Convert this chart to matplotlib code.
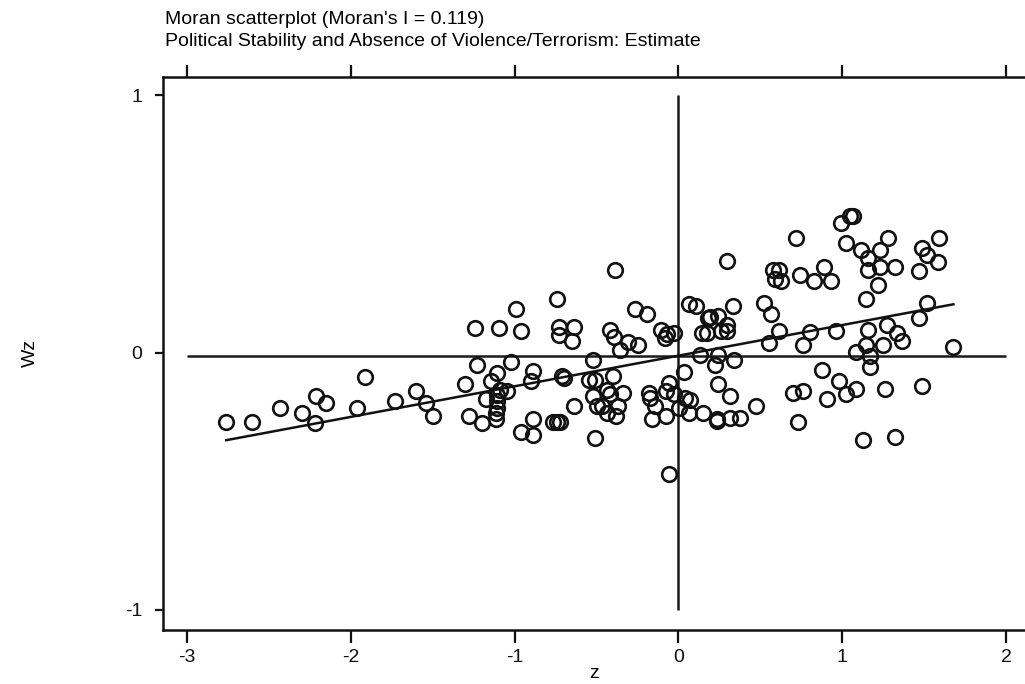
import matplotlib.pyplot as plt
import numpy as np

plt.rcParams["font.family"] = ["Liberation Sans", "DejaVu Sans"]

# standardized variable z and its spatial lag Wz
z = [
    -2.76, -2.60, -2.43, -2.30, -2.21, -2.15, -2.22, -1.915, -1.96, -1.73,
    -1.60, -1.54, -1.50,
    -1.244, -1.095, -0.963, -0.992, -0.740, -0.726, -0.638, -0.726, -0.652, -0.520,
    -1.228, -1.024, -1.110, -1.146, -1.305, -0.888, -0.902, -0.709, -0.700, -0.547, -0.506,
    -1.090, -1.045, -1.177, -1.107, -1.107, -1.110, -1.112, -1.112, -1.278, -1.201,
    -0.963, -0.888, -0.888, -0.764, -0.740, -0.720, -0.638, -0.520, -0.496, -0.506,
    -0.384, -0.266, -0.191, -0.415, -0.394, -0.307, -0.248, -0.354, -0.104, -0.069,
    -0.079, -0.024,
    0.063, 0.108, 0.331, 0.181, 0.195, 0.240, 0.297, 0.144, 0.175, 0.260, 0.297,
    0.297, 0.520, 0.565, 0.577, 0.612, 0.591, 0.626, 0.720, 0.740, 0.612, 0.551,
    0.134, 0.240, 0.226, 0.337, 0.037, 0.240, 0.313, 0.476, 0.699, 0.728,
    -0.398, -0.435, -0.419, -0.340, -0.435, -0.378, -0.370, -0.465,
    -0.181, -0.175, -0.144, -0.059, -0.073, -0.024, -0.160, -0.073, 0.006, 0.043,
    0.073, 0.063, 0.150, 0.236, 0.236, 0.313, 0.378, -0.059,
    0.992, 1.049, 1.069, 1.024, 1.114, 1.160, 1.232, 1.279, 1.160, 1.232, 1.323,
    1.218, 1.145, 1.486, 1.516, 1.591, 1.587, 1.472, 0.890, 0.829, 0.933,
    1.516, 1.472, 0.805, 0.963, 1.160, 1.276, 1.337, 1.368, 1.248, 1.146, 1.084,
    1.171, 1.171, 0.760, 1.679,
    0.876, 0.982, 1.022, 1.085, 0.906, 0.760, 1.262, 1.486, 1.126, 1.323,
]
wz = [
    -0.27, -0.27, -0.215, -0.234, -0.170, -0.195, -0.273, -0.094, -0.215, -0.189,
    -0.150, -0.195, -0.245,
    0.096, 0.096, 0.085, 0.171, 0.208, 0.098, 0.098, 0.067, 0.047, -0.027,
    -0.047, -0.036, -0.079, -0.111, -0.122, -0.073, -0.111, -0.092, -0.098, -0.105, -0.105,
    -0.144, -0.150, -0.180, -0.163, -0.189, -0.215, -0.234, -0.258, -0.245, -0.273,
    -0.309, -0.322, -0.260, -0.271, -0.271, -0.271, -0.206, -0.167, -0.208, -0.331,
    0.322, 0.171, 0.151, 0.089, 0.061, 0.040, 0.031, 0.009, 0.089, 0.074,
    0.057, 0.076,
    0.190, 0.183, 0.183, 0.135, 0.137, 0.141, 0.109, 0.076, 0.076, 0.083, 0.083,
    0.355, 0.193, 0.151, 0.322, 0.322, 0.286, 0.277, 0.445, 0.303, 0.085, 0.038,
    -0.008, -0.008, -0.047, -0.027, -0.076, -0.122, -0.170, -0.206, -0.157, -0.271,
    -0.092, -0.144, -0.159, -0.157, -0.234, -0.247, -0.208, -0.206,
    -0.157, -0.176, -0.206, -0.118, -0.150, -0.159, -0.260, -0.245, -0.215, -0.176,
    -0.186, -0.234, -0.234, -0.258, -0.265, -0.254, -0.254, -0.470,
    0.504, 0.532, 0.532, 0.426, 0.397, 0.368, 0.397, 0.445, 0.322, 0.331, 0.331,
    0.264, 0.210, 0.407, 0.381, 0.445, 0.351, 0.316, 0.331, 0.277, 0.277,
    0.193, 0.135, 0.079, 0.083, 0.089, 0.106, 0.076, 0.047, 0.031, 0.031, 0.001,
    -0.014, -0.056, 0.031, 0.021,
    -0.066, -0.111, -0.159, -0.141, -0.180, -0.150, -0.141, -0.131, -0.338, -0.329,
]

moran_i = 0.119      # slope of the fitted line
intercept = -0.012
z_mean = 0.0
wz_mean = -0.013

xticks = [-3, -2, -1, 0, 1, 2]
yticks = [-1, 0, 1]


def main():
    fig = plt.figure(figsize=(10.25, 6.84), dpi=100)
    ax = fig.add_axes([0.159, 0.079, 0.841, 0.808])

    ax.plot(z, wz, "o", ms=10.5, mfc="none", mec="#111111", mew=1.9, zorder=3)

    # quadrant lines
    ax.hlines(wz_mean, xticks[0], xticks[-1], color="#1a1a1a", lw=1.8)
    ax.vlines(z_mean, yticks[0], yticks[-1], color="#1a1a1a", lw=1.8)

    xs = np.array([min(z), max(z)])
    ax.plot(xs, intercept + moran_i * xs, color="#111111", lw=1.8)

    ax.set_xlim(-3.146, 2.116)
    ax.set_ylim(-1.078, 1.070)
    ax.set_xticks(xticks)
    ax.set_yticks(yticks)
    ax.tick_params(axis="both", direction="out", width=1.6, labelsize=14,
                   colors="#111111")
    ax.tick_params(axis="x", length=9, pad=5, top=True)
    ax.tick_params(axis="y", length=6, pad=9)
    ax.set_xticklabels([str(t) for t in xticks])
    ax.set_yticklabels([str(t) for t in yticks])
    for side in ["left", "bottom", "top"]:
        ax.spines[side].set_linewidth(1.8)
        ax.spines[side].set_color("#111111")
    ax.spines["right"].set_visible(False)

    fig.text(0.580, 0.016, "z", fontsize=14, ha="center", va="center")
    fig.text(0.030, 0.484, "Wz", rotation=90, fontsize=14,
             ha="center", va="center")
    fig.text(0.161, 0.972, "Moran scatterplot (Moran's I = 0.119)",
             fontsize=14, ha="left", va="center")
    fig.text(0.161, 0.940,
             "Political Stability and Absence of Violence/Terrorism: Estimate",
             fontsize=14, ha="left", va="center")

    fig.savefig("out.png", dpi=100)


if __name__ == "__main__":
    main()
